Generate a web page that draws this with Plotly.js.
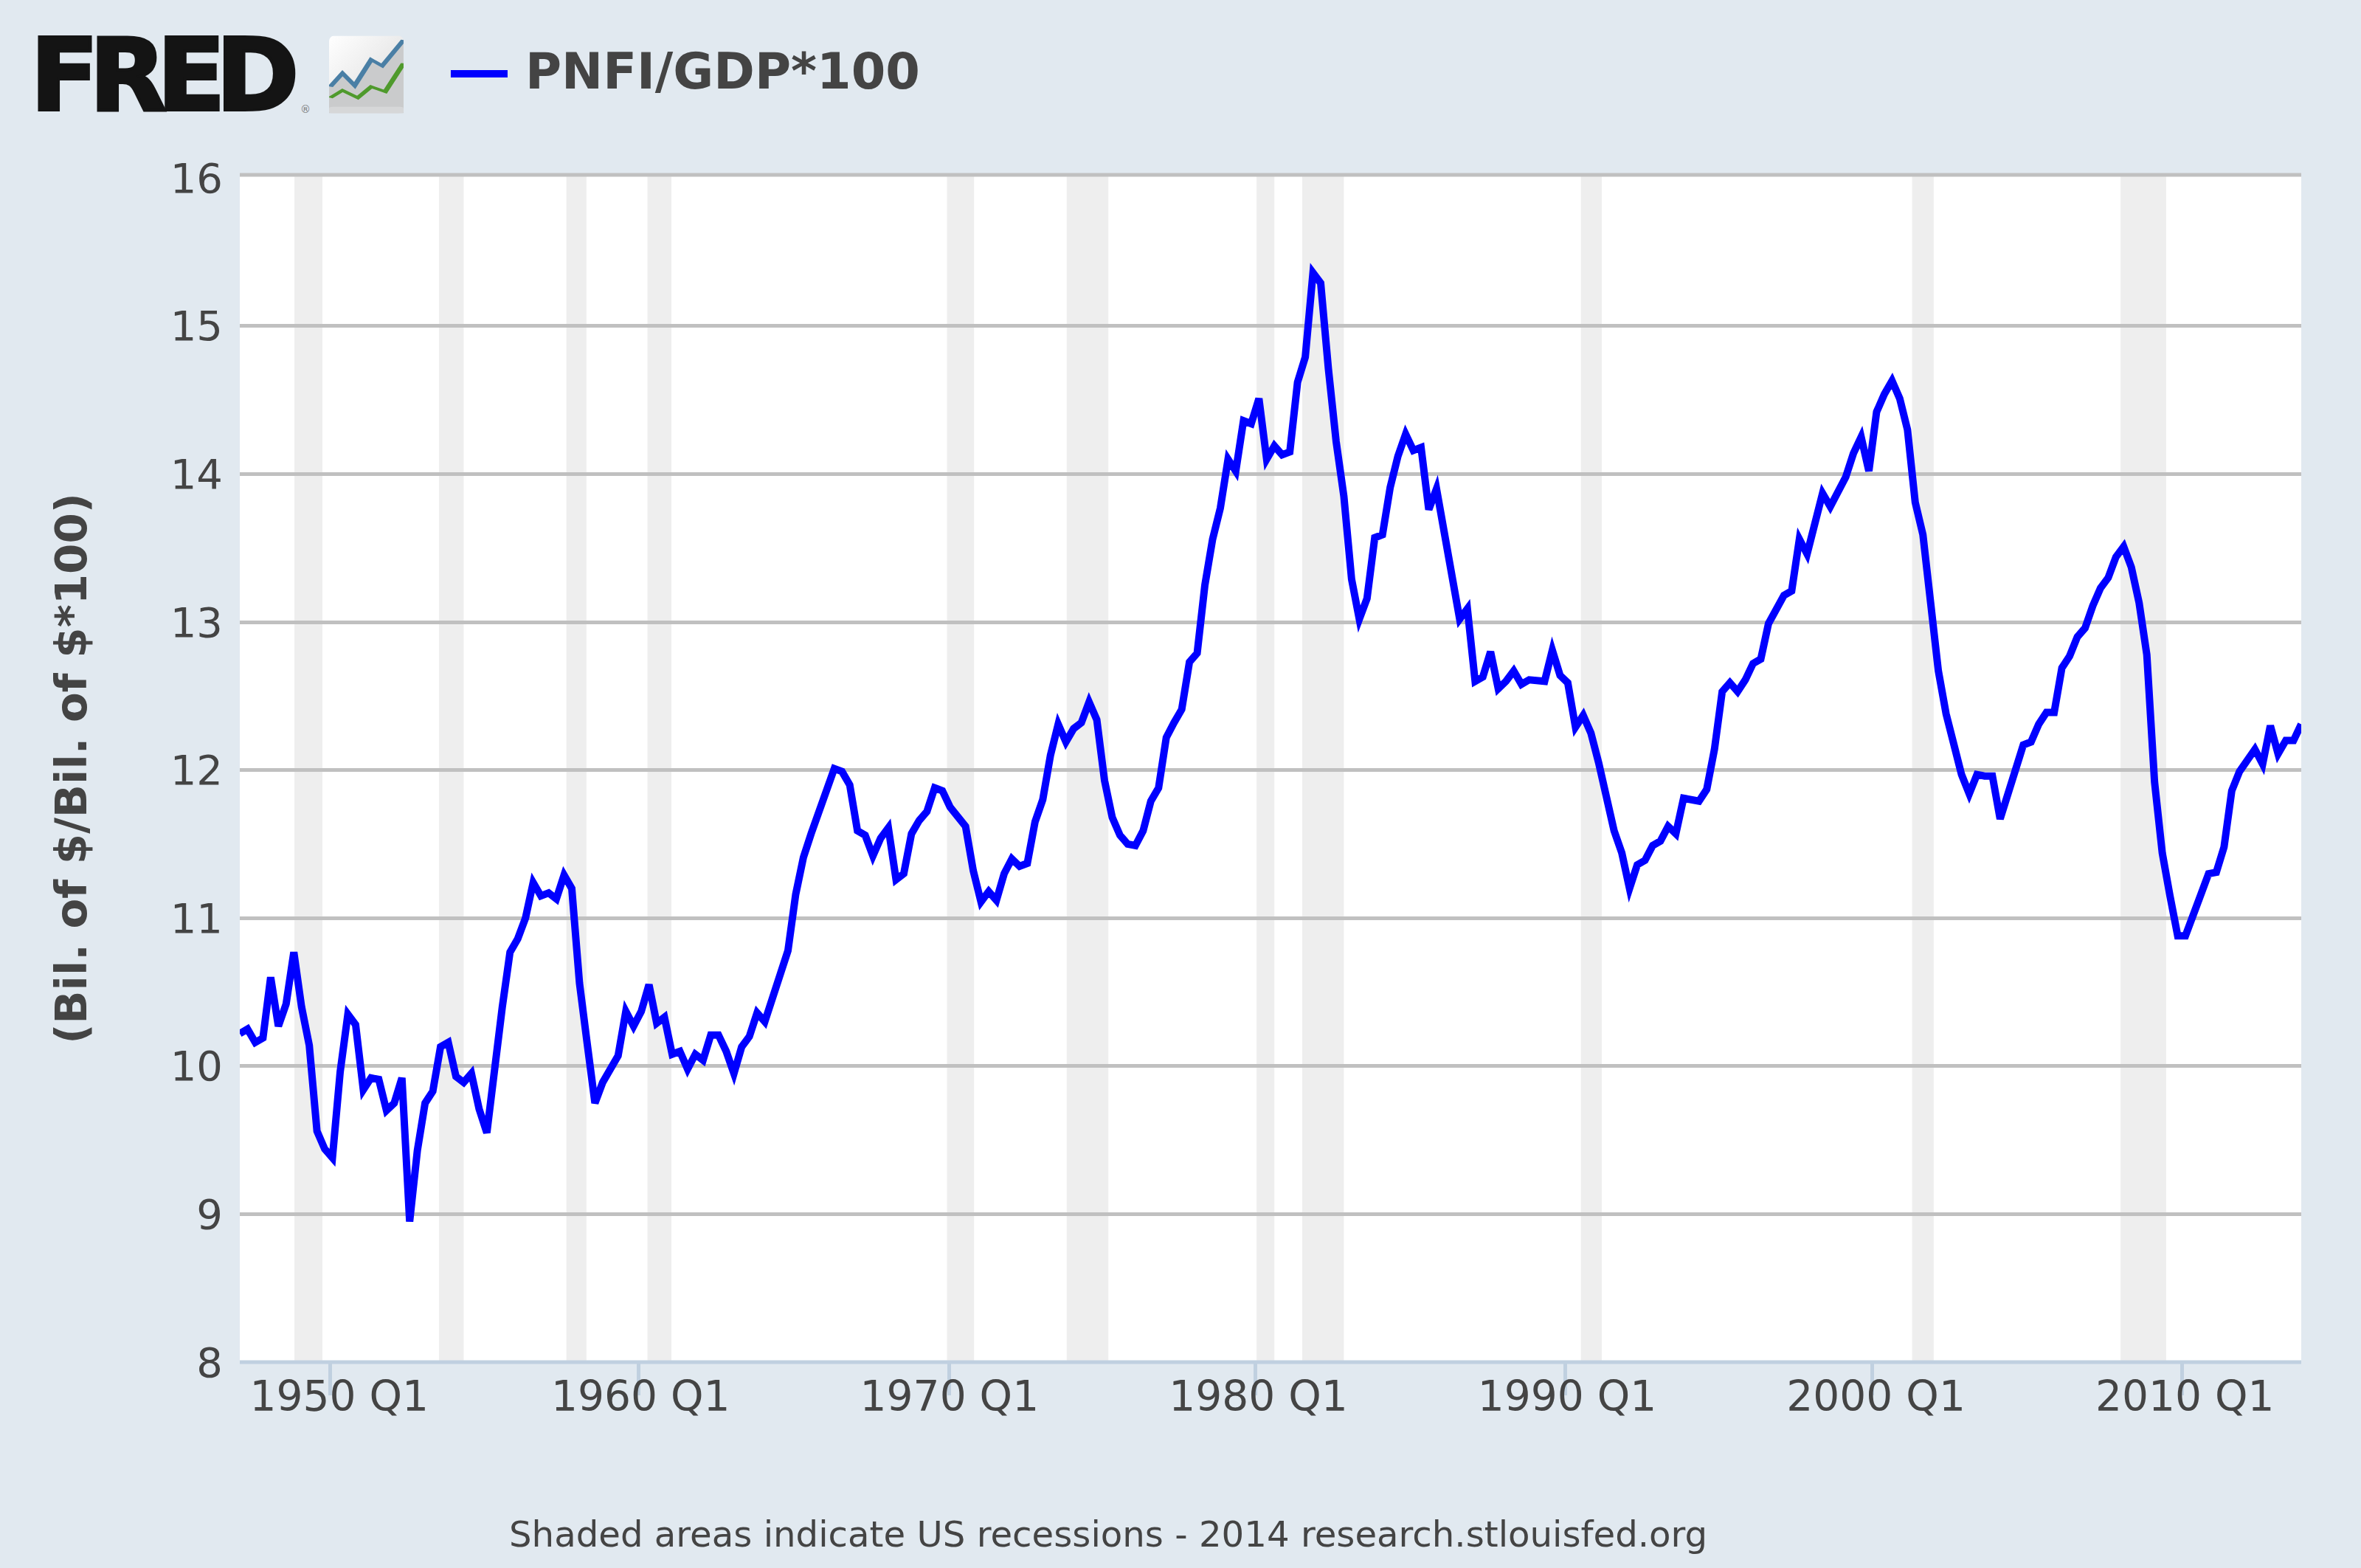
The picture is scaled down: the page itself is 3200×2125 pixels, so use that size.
<!DOCTYPE html>
<html>
<head>
<meta charset="utf-8">
<script src="https://cdn.plot.ly/plotly-3.0.1.min.js"></script>
<style>
html,body{margin:0;padding:0;background:#E1E9F0;}
#chart{width:3200px;height:2125px;}
.js-line{stroke-miterlimit:4 !important;stroke-linejoin:miter !important;}
.legendtext{transform:translate(19px,-6px);}
.annotation[data-index="0"] text{stroke:#141414;stroke-width:4px;}
</style>
</head>
<body>
<div id="chart"></div>
<script>
const seriesName = "PNFI/GDP*100";
const startYear = 1947;
const values1947 = [10.22,10.25,10.16,10.19,10.60,10.27,10.42,10.77,10.40,10.14,9.56,9.44,9.38,9.96,10.35,10.28,9.84,9.92,9.91,9.70,9.75,9.92,8.95,9.43,9.75,9.83,10.13,10.16,9.93,9.89,9.95,9.71,9.55,10.00,10.40,10.77,10.86,11.00,11.24,11.15];
const values1957 = [11.17,11.13,11.29,11.20,10.56,10.15,9.75,9.89,9.99,10.07,10.37,10.27,10.37,10.55,10.29,10.33,10.08,10.10,9.98,10.08,10.04,10.21,10.21,10.10,9.95,10.13,10.20,10.36,10.30,10.47,10.60,10.78,11.16,11.41,11.57,11.73,11.85,12.01,11.99,11.90];
const values1967 = [11.59,11.56,11.42,11.54,11.61,11.26,11.30,11.57,11.66,11.72,11.88,11.86,11.75,11.69,11.62,11.32,11.11,11.18,11.12,11.30,11.40,11.35,11.37,11.65,11.80,12.10,12.31,12.19,12.28,12.32,12.46,12.34,11.93,11.68,11.56,11.50,11.49,11.59,11.79,11.88];
const values1977 = [12.22,12.32,12.41,12.73,12.79,13.25,13.56,13.77,14.10,14.02,14.36,14.34,14.51,14.10,14.19,14.13,14.15,14.62,14.79,15.36,15.29,14.71,14.22,13.85,13.29,13.02,13.16,13.57,13.59,13.91,14.12,14.27,14.16,14.18,13.76,13.90,13.60,13.29,13.02,13.09];
const values1987 = [12.60,12.63,12.80,12.55,12.60,12.67,12.58,12.61,12.61,12.60,12.81,12.64,12.59,12.29,12.37,12.25,12.05,11.83,11.59,11.44,11.20,11.36,11.39,11.49,11.52,11.62,11.57,11.81,11.80,11.79,11.87,12.14,12.53,12.59,12.53,12.61,12.72,12.75,12.99,13.08];
const values1997 = [13.18,13.21,13.56,13.46,13.65,13.87,13.78,13.87,13.98,14.14,14.25,14.02,14.42,14.54,14.63,14.51,14.30,13.81,13.59,13.13,12.67,12.38,12.18,11.97,11.84,11.97,11.96,11.96,11.67,11.83,12.01,12.17,12.19,12.31,12.39,12.39,12.69,12.77,12.90,12.96];
const values2007 = [13.11,13.23,13.30,13.44,13.51,13.37,13.13,12.78,11.92,11.44,11.15,10.88,10.88,11.04,11.16,11.30,11.31,11.48,11.86,11.99,12.06,12.14,12.04,12.30,12.11,12.20,12.20,12.31];
const values = [].concat(values1947,values1957,values1967,values1977,values1987,values1997,values2007);
const years = values.map((_,i)=>startYear+i/4);
const quarters = years.map(y=>Math.floor(y)+" Q"+(Math.round((y-Math.floor(y))*4)+1));

const recessionStart = [1948.77,1953.45,1957.575,1960.2,1969.9,1973.775,1979.925,1981.4,1990.425,2001.15,2007.9];
const recessionEnd   = [1949.675,1954.25,1958.225,1960.975,1970.775,1975.125,1980.5,1982.75,1991.1,2001.85,2009.375];

const yTicks = [8,9,10,11,12,13,14,15];
const yTopTick = [16];
const yRange = [8,16.0214];
const tickYears = [1949.916,1959.916,1969.97,1979.885,1989.93,1999.85,2009.89];
const labelYears = [1950.22,1959.98,1969.98,1979.98,1989.98,1999.98,2009.98];
const tickLabels = ["1950 Q1","1960 Q1","1970 Q1","1980 Q1","1990 Q1","2000 Q1","2010 Q1"];

const W=3200,H=2125,L=325,R=3119.4,T=236.5,B=1845.6;
const px=x=>(x-L)/(R-L), py=y=>(B-y)/(B-T);
const TXT="#444444", FONT="DejaVu Sans, Verdana, sans-serif";
const xRange=[startYear,startYear+(values.length-1)/4];

const iconSvg = `<svg xmlns="http://www.w3.org/2000/svg" width="101" height="105" viewBox="538 143 122 315" preserveAspectRatio="none"><defs><linearGradient id="g" x1="0" y1="0" x2="1" y2="1"><stop offset="0" stop-color="#ffffff"/><stop offset="1" stop-color="#d8d8d8"/></linearGradient></defs><rect x="538" y="143" width="122" height="315" rx="8" ry="22" fill="url(#g)"/><path d="M538 350L560 295L580 345L607 240L625 265L660 160L660 458L538 458Z" fill="#cacbcc"/><rect x="538" y="432" width="122" height="26" rx="6" fill="#d6d7d8"/><path d="M540 350L560 295L580 345L607 240L625 265L660 160" fill="none" stroke="#4a7fa5" stroke-width="9"/><path d="M540 395L560 365L585 395L607 350L630 370L660 255" fill="none" stroke="#4f9a2c" stroke-width="9"/></svg>`;

const traces=[{
  type:"scatter",mode:"lines",name:seriesName,x:years,y:values,text:quarters,
  hovertemplate:"%{text}: %{y:.2f}<extra></extra>",
  line:{color:"#0000FF",width:10,shape:"linear"},xaxis:"x",yaxis:"y"
},{
  type:"scatter",mode:"markers",x:[labelYears[0]],y:yTopTick,showlegend:false,hoverinfo:"skip",
  marker:{opacity:0,size:1},xaxis:"x2",yaxis:"y2"
}];

const layout={
  width:W,height:H,autosize:false,
  paper_bgcolor:"#E1E9F0",plot_bgcolor:"#FFFFFF",
  margin:{l:L,r:W-R,t:T,b:H-B,pad:0},
  font:{family:FONT,color:TXT},
  showlegend:true,
  legend:{x:px(606),y:py(100),xanchor:"left",yanchor:"middle",orientation:"h",
    bgcolor:"rgba(0,0,0,0)",borderwidth:0,itemwidth:77,itemclick:false,itemdoubleclick:false,
    entrywidth:800,entrywidthmode:"pixels",
    font:{family:FONT,size:67,color:TXT,weight:700},traceorder:"normal"},
  xaxis:{type:"linear",range:xRange,tickmode:"array",
    tickvals:tickYears,ticktext:tickYears.map(()=>""),ticks:"outside",ticklen:44,tickwidth:5,tickcolor:"#C0D0E0",
    showgrid:false,zeroline:false,showline:false,fixedrange:true},
  xaxis2:{type:"linear",overlaying:"x",side:"bottom",anchor:"y2",range:xRange,tickmode:"array",
    tickvals:labelYears,ticktext:tickLabels,ticks:"",ticklabelstandoff:8,
    tickfont:{family:FONT,size:56.6,color:TXT},showgrid:false,zeroline:false,showline:false},
  yaxis:{type:"linear",range:yRange,tickmode:"array",tickvals:yTicks,ticktext:yTicks.map(String),
    ticks:"",ticklabelstandoff:22,tickfont:{family:FONT,size:56,color:TXT},
    showgrid:true,gridcolor:"#C0C0C0",gridwidth:5,zeroline:false,showline:false,
    title:{text:"(Bil. of $/Bil. of $*100)",standoff:93,font:{family:FONT,size:59.4,color:TXT,weight:700}}},
  yaxis2:{type:"linear",overlaying:"y",side:"left",anchor:"x2",range:yRange,tickmode:"array",
    tickvals:yTopTick,ticktext:yTopTick.map(String),ticks:"",ticklabelstandoff:22,
    tickfont:{family:FONT,size:56,color:TXT},showgrid:false,zeroline:false,showline:false},
  shapes:recessionStart.map((s,i)=>({type:"rect",xref:"x",yref:"paper",x0:s,x1:recessionEnd[i],y0:0,y1:1,
      fillcolor:"#EEEEEE",line:{width:0},layer:"below"}))
    .concat([
      {type:"line",xref:"paper",yref:"paper",x0:0,x1:1,y0:0,y1:0,line:{color:"#C0D0E0",width:5},layer:"between"},
      {type:"line",xref:"paper",yref:"paper",x0:0,x1:1,y0:1,y1:1,line:{color:"#C0C0C0",width:5},layer:"between"}
    ]),
  annotations:[
    {xref:"paper",yref:"paper",x:px(39),y:py(101),xanchor:"left",yanchor:"middle",showarrow:false,
     text:'<span style="letter-spacing:-13px">FRED</span>',font:{family:"DejaVu Sans",size:136,color:"#141414",weight:700}},
    {xref:"paper",yref:"paper",x:px(1502),y:py(2079),xanchor:"center",yanchor:"middle",showarrow:false,
     text:"Shaded areas indicate US recessions - 2014 research.stlouisfed.org",font:{family:FONT,size:48.2,color:TXT}},
    {xref:"paper",yref:"paper",x:px(414),y:py(147),xanchor:"center",yanchor:"middle",showarrow:false,
     text:"®",font:{family:FONT,size:14,color:"#777777"}}
  ],
  images:[{source:"data:image/svg+xml;charset=utf-8,"+encodeURIComponent(iconSvg),xref:"paper",yref:"paper",
    x:px(446),y:py(48),sizex:101/(R-L),sizey:105/(B-T),xanchor:"left",yanchor:"top",sizing:"stretch",layer:"above"}]
};
Plotly.newPlot("chart",traces,layout,{displayModeBar:false,staticPlot:true});
</script>
</body>
</html>
